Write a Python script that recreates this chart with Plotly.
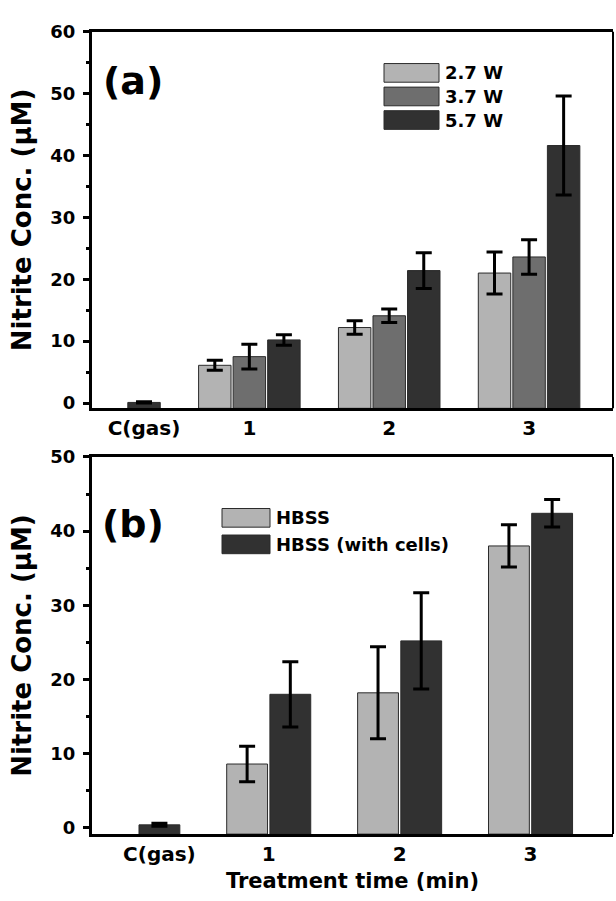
import plotly.graph_objects as go

W, H = 616, 901
FONT = "DejaVu Sans"

categories = ["C(gas)", "1", "2", "3"]

# (a) nitrite produced at three plasma powers
power_labels = ["2.7 W", "3.7 W", "5.7 W"]
power_means = [
    [None, 6.1, 12.2, 21.0],
    [None, 7.5, 14.1, 23.6],
    [0.1, 10.2, 21.4, 41.6],
]
power_errors = [
    [None, 0.8, 1.1, 3.4],
    [None, 2.0, 1.1, 2.8],
    [0.1, 0.85, 2.9, 8.0],
]

# (b) nitrite in HBSS with and without cells
medium_labels = ["HBSS", "HBSS (with cells)"]
medium_means = [
    [None, 8.6, 18.2, 38.0],
    [0.4, 18.0, 25.2, 42.4],
]
medium_errors = [
    [None, 2.4, 6.2, 2.85],
    [0.2, 4.4, 6.5, 1.85],
]

LIGHT, MID, DARK = "#b3b3b3", "#6e6e6e", "#313131"
power_colors = [LIGHT, MID, DARK]
medium_colors = [LIGHT, DARK]

Y0 = -0.85  # bars rise from the bottom of the axis


def px_x(p):
    return p / W


def px_y(p):
    return 1 - p / H


# plot-area rectangles in pixels (left, right, top, bottom)
A_BOX = (92, 613, 21, 404.5)
B_BOX = (92, 613, 454, 838)

positions = list(range(len(categories)))

fig = go.Figure()


def add_group(means, errors, labels, colors, slot, width, xa, ya):
    n = len(means)
    for i, (vals, errs, name, col) in enumerate(zip(means, errors, labels, colors)):
        centre = (i - (n - 1) / 2) * slot
        fig.add_trace(go.Bar(
            x=positions,
            y=[None if v is None else v - Y0 for v in vals],
            base=Y0,
            width=width,
            offset=centre - width / 2,
            name=name,
            marker=dict(color=col, line=dict(color="#2b2b2b", width=1)),
            error_y=dict(type="data", array=errs, visible=True,
                         color="black", thickness=3, width=8),
            xaxis=xa, yaxis=ya, showlegend=False,
        ))
    # the control sample only carries the last series
    return ((n - 1) / 2) * slot


A_SLOT, A_WIDTH = 0.247, 0.232
B_SLOT, B_WIDTH = 0.330, 0.312
a_ctrl = add_group(power_means, power_errors, power_labels, power_colors,
                   A_SLOT, A_WIDTH, "x", "y")
b_ctrl = add_group(medium_means, medium_errors, medium_labels, medium_colors,
                   B_SLOT, B_WIDTH, "x2", "y2")

tick_font = dict(family=FONT, size=20, color="black", weight="bold")
ytick_font = dict(family=FONT, size=18, color="black", weight="bold")
title_font = dict(family=FONT, size=26, color="black", weight="bold")


def xaxis_cfg(box, rng, ctrl):
    return dict(
        domain=[px_x(box[0]), px_x(box[1])],
        range=rng, showline=True, linewidth=3, linecolor="black",
        mirror=True, ticks="", showgrid=False, zeroline=False,
        tickmode="array", tickvals=[ctrl] + positions[1:],
        ticktext=categories, tickfont=tick_font,
    )


def yaxis_cfg(box, rng, anchor):
    return dict(
        domain=[px_y(box[3]), px_y(box[2])], anchor=anchor,
        range=rng, showline=True, linewidth=3, linecolor="black",
        mirror=False, showgrid=False, zeroline=False,
        ticks="outside", ticklen=6, tickwidth=2.5, tickcolor="black",
        dtick=10, tick0=0, tickfont=ytick_font, ticklabelstandoff=4,
        minor=dict(ticks="outside", ticklen=3.5, tickwidth=2.5,
                   tickcolor="black", dtick=5, tick0=0, showgrid=False),
        title=dict(text="Nitrite Conc. (μM)", font=title_font, standoff=12),
    )


xa = xaxis_cfg(A_BOX, [-0.125, 3.6], a_ctrl)
xa["anchor"] = "y"
xb = xaxis_cfg(B_BOX, [-0.35, 3.63], b_ctrl)
xb["anchor"] = "y2"
xb["title"] = dict(text="Treatment time (min)", font=dict(family=FONT, size=21,
                   color="black", weight="bold"), standoff=9)

fig.update_layout(
    width=W, height=H,
    margin=dict(l=0, r=0, t=0, b=0),
    paper_bgcolor="white", plot_bgcolor="white",
    barmode="overlay",
    xaxis=xa, yaxis=yaxis_cfg(A_BOX, [Y0, 60], "x"),
    xaxis2=xb, yaxis2=yaxis_cfg(B_BOX, [Y0, 50], "x2"),
    showlegend=False,
)

shapes = []
annotations = []

# thinner right-hand frame edges
for box in (A_BOX, B_BOX):
    shapes.append(dict(type="line", xref="paper", yref="paper",
                       x0=px_x(box[1]), x1=px_x(box[1]),
                       y0=px_y(box[3]), y1=px_y(box[2]),
                       line=dict(color="black", width=2)))

# panel letters
for text, (cx, cy) in (("(a)", (133, 71)), ("(b)", (133, 522))):
    annotations.append(dict(text=text, xref="paper", yref="paper",
                            x=px_x(cx), y=px_y(cy), showarrow=False,
                            xanchor="center", yanchor="middle",
                            font=dict(family=FONT, size=38, color="black",
                                      weight="bold")))


def legend(labels, colors, left, top, step, bw, bh):
    for k, (name, col) in enumerate(zip(labels, colors)):
        cy = top + k * step
        shapes.append(dict(type="rect", xref="paper", yref="paper",
                           x0=px_x(left), x1=px_x(left + bw),
                           y0=px_y(cy + bh / 2), y1=px_y(cy - bh / 2),
                           fillcolor=col, line=dict(color="#2b2b2b", width=1)))
        annotations.append(dict(text=name, xref="paper", yref="paper",
                                x=px_x(left + bw + 4), y=px_y(cy),
                                showarrow=False, xanchor="left",
                                yanchor="middle",
                                font=dict(family=FONT, size=18, color="black",
                                          weight="bold")))


legend(power_labels, power_colors, 384, 63, 24, 55, 19)
legend(medium_labels, medium_colors, 222, 516, 27, 48, 19)

fig.update_layout(shapes=shapes, annotations=annotations)

fig.write_html("out.html")
